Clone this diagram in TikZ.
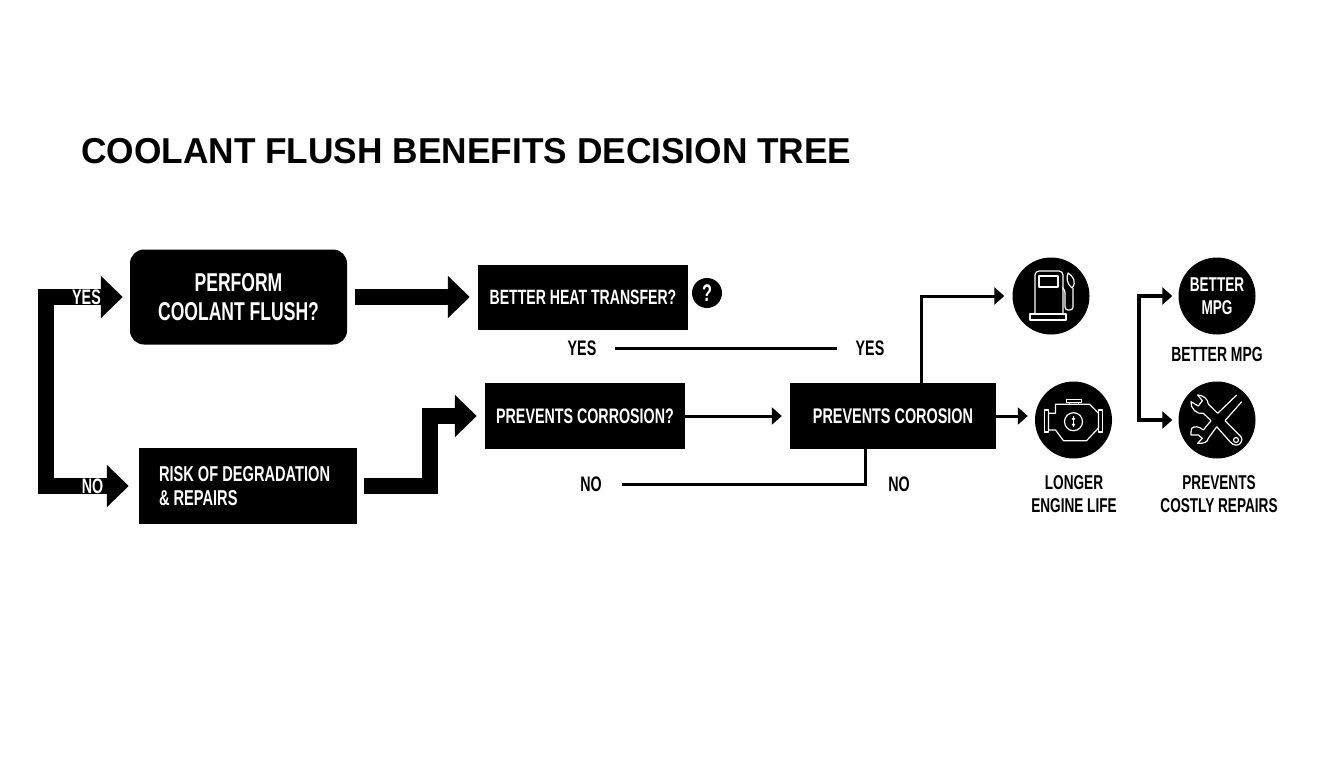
\documentclass[tikz,border=0pt]{standalone}
\usepackage{fontspec}
\setmainfont{Liberation Sans}
\newfontfamily\narrowfont[FakeStretch=0.68]{Liberation Sans Bold}
\newfontfamily\titlefont[FakeStretch=0.98]{Liberation Sans Bold}
\usetikzlibrary{arrows.meta}
\tikzset{
	blackbox/.style={fill=black,text=white,minimum width=#1,inner sep=0pt,font=\narrowfont\fontsize{21}{29}\selectfont,align=center},
	label/.style={text=black,inner sep=0pt,font=\narrowfont\fontsize{20}{23}\selectfont,align=center},
	tag/.style={fill=black,text=white,inner sep=1pt,font=\narrowfont\fontsize{21}{22}\selectfont},
	disc/.style={circle,fill=black,text=white,minimum size=77pt,inner sep=0pt,font=\narrowfont\fontsize{20}{23}\selectfont,align=center},
	fatarrow/.style={line width=16pt,-{Triangle[width=41pt,length=22pt]}},
	thinarrow/.style={line width=3pt,-{Triangle[width=17pt,length=10pt]}},
	plainline/.style={line width=3pt},
	icon/.style={draw=white,line width=1.2pt,line join=round},
}
\begin{document}
\begin{tikzpicture}[x=1pt,y=-1pt]
	\useasboundingbox (0,0) rectangle (1344,768);

	\node[anchor=west,inner sep=0pt,font=\titlefont\fontsize{36}{40}\selectfont] (title) at (81,151) {COOLANT FLUSH BENEFITS DECISION TREE};

	\node[blackbox=217pt,minimum height=95pt,rounded corners=14pt,font=\narrowfont\fontsize{25.8}{29}\selectfont] (perform) at (238.5,297) {PERFORM\\COOLANT FLUSH?};
	\node[blackbox=210pt,minimum height=65pt,font=\narrowfont\fontsize{20.7}{24}\selectfont] (heat) at (583,297) {BETTER HEAT TRANSFER?};
	\node[circle,fill=black,text=white,minimum size=30pt,inner sep=0pt,font=\narrowfont\fontsize{24}{24}\selectfont] (quest) at (707,293) {?};
	\node[blackbox=218pt,minimum height=76pt,align=flush left,text width=178pt,font=\narrowfont\fontsize{21.5}{24}\selectfont] (risk) at (248,486) {RISK OF DEGRADATION\\\& REPAIRS};
	\node[blackbox=200pt,minimum height=66pt,font=\narrowfont\fontsize{21}{24}\selectfont] (corrq) at (585,416) {PREVENTS CORROSION?};
	\node[blackbox=206pt,minimum height=66pt,font=\narrowfont\fontsize{21.2}{24}\selectfont] (corr) at (893,416) {PREVENTS COROSION};

	\node[disc] (fuel) at (1051,296) {};
	\node[disc] (engine) at (1073.5,420) {};
	\node[disc] (mpg) at (1217,296) {BETTER\\MPG};
	\node[disc] (tools) at (1217,420) {};

	\node[label,font=\narrowfont\fontsize{21}{23}\selectfont] (yesA) at (582,348) {YES};
	\node[label,font=\narrowfont\fontsize{21}{23}\selectfont] (yesB) at (870,348) {YES};
	\node[label,font=\narrowfont\fontsize{21}{23}\selectfont] (noA) at (591,484) {NO};
	\node[label,font=\narrowfont\fontsize{21}{23}\selectfont] (noB) at (899,484) {NO};
	\node[label,font=\narrowfont\fontsize{20.5}{23}\selectfont] (mpgtxt) at (1217,354) {BETTER MPG};
	\node[label] (lifetxt) at (1074,494) {LONGER\\ENGINE LIFE};
	\node[label] (repairtxt) at (1219,494) {PREVENTS\\COSTLY REPAIRS};

	\coordinate (split) at (46,390);
	\coordinate (riskup) at (430,450);
	\coordinate (upfoot) at (921,383);
	\coordinate (nofoot) at (865,449);
	\coordinate (fork) at (1139,358);

	% thick ones
	\draw[fatarrow,shorten >=7pt] (split) |- (perform.west);
	\draw[fatarrow,shorten >=10pt] (split) |- (risk.west);
	\draw[fatarrow,shorten <=8pt,shorten >=8pt] (perform.east) -- (heat.west);
	\draw[fatarrow,shorten <=7pt,shorten >=8pt] (risk.east) -| (riskup) |- (corrq.west);

	\node[tag] (yestag) at (86.5,297) {YES};
	\node[tag] (notag) at (92.5,486) {NO};

	% thin ones
	\draw[thinarrow,shorten >=8pt] (corrq.east) -- (corr.west);
	\draw[thinarrow,shorten >=8pt] (upfoot) |- (fuel.west);
	\draw[thinarrow,shorten >=7pt] (corr.east) -- (corr.east -| engine.west);
	\draw[thinarrow,line width=4pt,shorten >=6pt] (fork) |- (mpg.west);
	\draw[thinarrow,line width=4pt,shorten >=6pt] (fork) |- (tools.west);
	\draw[plainline,shorten <=19pt,shorten >=19pt] (yesA) -- (yesB);
	\draw[plainline,shorten <=20pt] (noA) -| (nofoot);

	% pump
	\begin{scope}[shift={(fuel.center)}]
		\draw[icon,rounded corners=4pt] (-16,18) -- (-16,-25) -- (12,-25) -- (12,18);
		\draw[icon] (-12,-20) rectangle (7,-9);
		\draw[icon] (-21,18) rectangle (15,24);
		\draw[icon,rounded corners=3pt] (12,-8) -- (14,-6) -- (14,14) -- (22,14) -- (22,-8);
		\draw[icon] (21,-8) .. controls (16,-12) and (15,-18) .. (17,-23) .. controls (22,-20) and (26,-14) .. (21,-8);
	\end{scope}

	% engine
	\begin{scope}[shift={(engine.center)}]
		\draw[icon] (-7.3,-20.7) rectangle (8.3,-17.3);
		\draw[icon] (-4,-17.3) -- (-4,-15.7) (5,-17.3) -- (5,-15.7);
		\draw[icon] (-18,-15.7) -- (16,-15.7) -- (25,-6.7) -- (25,8) -- (13,20.7) -- (-10,20.7) -- (-18,10) -- (-25,10) -- (-25,-6.7) -- (-18,-6.7) -- cycle;
		\draw[icon] (-29,-10) rectangle (-25,12);
		\draw[icon] (25,-10) rectangle (29,12);
		\draw[icon] (0,1.7) circle (9pt);
		\fill[white] (0,-1.2) circle (1.8pt) (0,4.6) circle (1.8pt);
		\draw[white,line width=1pt] (0,-4) -- (0,7);
	\end{scope}

	% wrench and screwdriver
	\begin{scope}[shift={(tools.center)}]
		% top left to bottom right
		\draw[icon] (0.7,-6.7) -- (-8.7,-16) .. controls (-9,-21) and (-14,-25) .. (-19.3,-25) -- (-14.7,-19.3) -- (-18.7,-14) -- (-26,-18.3) .. controls (-27,-12) and (-20,-5) .. (-13.7,-6.7) -- (-6,0.7);
		\draw[icon] (-0.3,6.7) -- (13,21.7) .. controls (16,26) and (22,26) .. (23.5,23) .. controls (25.5,20) and (25,18) .. (24,16.7) -- (8,0.7);
		\draw[icon] (19,20) circle (2.5pt);
		% top right to bottom left
		\draw[icon] (0.7,-6.7) -- (19.7,-25);
		\draw[icon] (8,0.7) -- (24.7,-18.3);
		\draw[icon] (-6,0.7) -- (-13.7,10) .. controls (-18,6) and (-23,6) .. (-25.3,8.3) .. controls (-26,10) and (-26,13) .. (-26,15) -- (-18.7,15) -- (-14.7,18.3) -- (-19.3,23.3) .. controls (-14,24) and (-9,22) .. (-8.7,18.3) -- (-0.3,6.7);
	\end{scope}
\end{tikzpicture}
\end{document}
